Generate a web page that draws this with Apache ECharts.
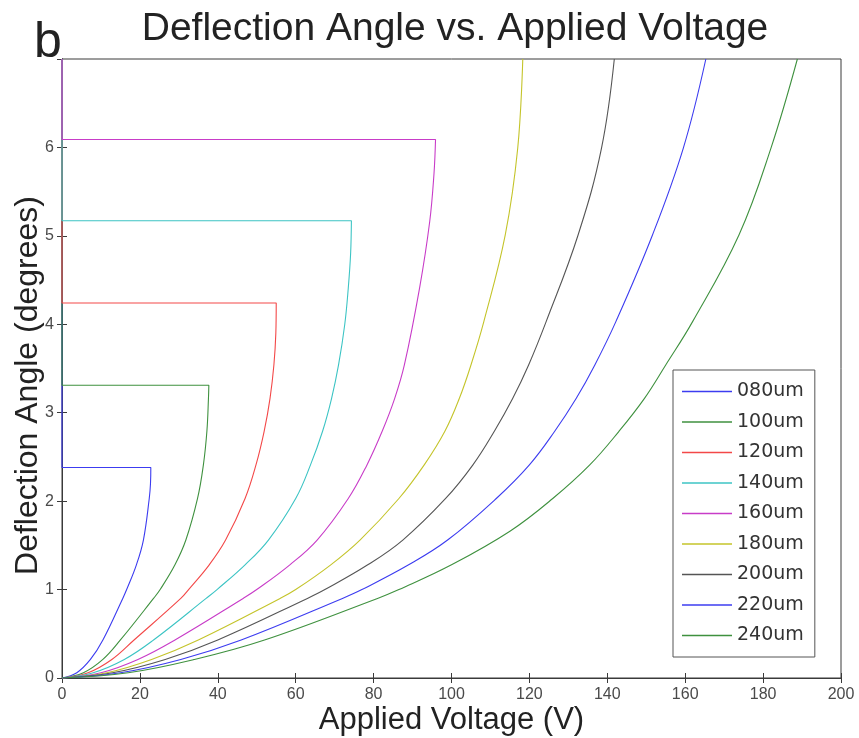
<!DOCTYPE html>
<html style="height: 100%">
   <head>
       <meta charset="utf-8">
       <title>Deflection Angle vs. Applied Voltage</title>
   </head>
   <body style="height: 100%; margin: 0; background: #fff">
       <div id="container" style="width: 859px; height: 738px"></div>
       <script type="text/javascript" src="https://cdn.jsdelivr.net/npm/echarts@6/dist/echarts.min.js"></script>
       <script type="text/javascript">
           // mirror sizes (legend names)
           var sizes = ['080um', '100um', '120um', '140um', '160um', '180um', '200um', '220um', '240um'];
           var colors = ['#3c3cf0', '#3f913f', '#f34848', '#3cc4c4', '#c83cc8', '#c4c42a', '#555555', '#3c3cf0', '#3f913f'];

           // [voltage (V), angle (deg)]
           var c080 = [[0, 0], [3.8, 0.06], [7.3, 0.21], [10.5, 0.43], [15.6, 0.9], [16.6, 1.0], [19.1, 1.28], [20.9, 1.56], [22.4, 2.03], [22.72, 2.2], [22.8, 2.38], [0, 2.38], [0, 7]];
           var c100 = [[0, 0], [5.5, 0.06], [10.5, 0.21], [15, 0.43], [23.5, 0.9], [25.2, 1.0], [29, 1.28], [31.8, 1.56], [34.8, 2.03], [36.3, 2.41], [37.2, 2.79], [37.6, 3.16], [37.7, 3.31], [0, 3.31], [0, 7]];
           var c120 = [[0, 0], [6.7, 0.06], [12.8, 0.21], [18.5, 0.43], [30.5, 0.9], [32.5, 1.0], [37.8, 1.28], [42, 1.56], [47, 2.03], [49.8, 2.41], [51.9, 2.79], [53.4, 3.16], [54.4, 3.54], [54.9, 3.9], [55, 4.24], [0, 4.24], [0, 7]];
           var c140 = [[0, 0], [8, 0.06], [16, 0.21], [23.5, 0.43], [37, 0.9], [39.8, 1.0], [47, 1.28], [53, 1.56], [60, 2.03], [63.8, 2.41], [66.9, 2.79], [69.2, 3.16], [71, 3.54], [72.6, 4.0], [73.5, 4.41], [74.1, 4.8], [74.3, 5.17], [0, 5.17], [0, 7]];
           var c160 = [[0, 0], [10, 0.06], [19.5, 0.21], [29, 0.43], [46.5, 0.9], [50, 1.0], [58.5, 1.28], [65.5, 1.56], [73.5, 2.03], [78.3, 2.41], [82.2, 2.79], [85.4, 3.16], [87.9, 3.54], [91.8, 4.41], [94.4, 5.16], [95.5, 5.7], [95.9, 6.09], [0, 6.09], [0, 7]];
           var c180 = [[0, 0], [11.5, 0.06], [23, 0.21], [35, 0.43], [56, 0.9], [60, 1.0], [69, 1.28], [76.5, 1.56], [86.5, 2.03], [93, 2.41], [98.3, 2.79], [102, 3.16], [105, 3.54], [108.3, 4.03], [113.8, 5.01], [117, 5.99], [118.3, 7.0]];
           var c200 = [[0, 0], [13, 0.06], [26.5, 0.21], [40, 0.43], [63, 0.9], [67.5, 1.0], [78.5, 1.28], [87.5, 1.56], [98.5, 2.03], [105.5, 2.41], [111, 2.79], [115.7, 3.16], [119.8, 3.54], [124.3, 4.03], [132.5, 5.01], [138.5, 5.99], [141.8, 7.0]];
           var c220 = [[0, 0], [15, 0.06], [30.5, 0.21], [46, 0.43], [72, 0.9], [77, 1.0], [89, 1.28], [99, 1.56], [111.5, 2.03], [120, 2.41], [126.5, 2.79], [132, 3.16], [136.8, 3.54], [142.2, 4.03], [151.6, 5.01], [159.5, 5.99], [165.3, 7.0]];
           var c240 = [[0, 0], [17, 0.06], [34, 0.21], [52, 0.43], [81, 0.9], [86.5, 1.0], [100, 1.28], [115, 1.66], [126, 2.03], [135.5, 2.41], [143, 2.79], [149.5, 3.16], [155, 3.54], [161.9, 4.03], [173.8, 5.01], [182, 5.99], [188.8, 7.0]];
           var curves = [c080, c100, c120, c140, c160, c180, c200, c220, c240];

           var xTicks = { min: 0, max: 200, interval: 20 };
           var yTicks = { min: 0, max: 7, interval: 1 };

           var dom = document.getElementById("container");
           var myChart = echarts.init(dom, null, { renderer: 'canvas' });

           var axisLine = { show: true, lineStyle: { color: '#3a3a3a', width: 1 } };
           var tick = { show: true, inside: true, length: 5, lineStyle: { color: '#3a3a3a' } };
           var tickFont = { color: '#4a4a4a', fontSize: 16, fontFamily: 'Liberation Sans' };

           var series = curves.map(function (c, i) {
               return {
                   name: sizes[i],
                   type: 'line',
                   data: c,
                   symbol: 'none',
                   smooth: 0.4,
                   lineStyle: { color: colors[i], width: 1.1 },
                   itemStyle: { color: colors[i] },
                   animation: false
               };
           });

           var option = {
               backgroundColor: '#fff',
               animation: false,
               title: {
                   text: 'Deflection Angle vs. Applied Voltage',
                   left: 450, textAlign: 'center', top: 5,
                   textStyle: { fontSize: 39, fontWeight: 'normal', color: '#222', fontFamily: 'Liberation Sans' }
               },
               graphic: [{
                   type: 'text', left: 34, top: 18,
                   style: { text: 'b', fontSize: 50, fill: '#222', fontFamily: 'Liberation Sans' }
               }],
               grid: { left: 62, top: 59, width: 779, height: 619, outerBoundsMode: 'none', show: true, borderColor: '#3a3a3a', borderWidth: 1, backgroundColor: '#fff' },
               legend: {
                   orient: 'vertical',
                   left: 673, top: 370,
                   data: sizes,
                   icon: 'rect',
                   itemWidth: 50, itemHeight: 1.3, itemGap: 11.5,
                   padding: [12, 11, 12, 9],
                   borderColor: '#555', borderWidth: 1, backgroundColor: '#fff',
                   textStyle: { fontSize: 19, color: '#333', fontFamily: 'DejaVu Sans', lineHeight: 19 }
               },
               xAxis: [{
                   type: 'value', min: xTicks.min, max: xTicks.max, interval: xTicks.interval,
                   name: 'Applied Voltage (V)', nameLocation: 'middle', nameGap: 27, nameMoveOverlap: false,
                   nameTextStyle: { fontSize: 31, color: '#222', fontFamily: 'Liberation Sans' },
                   axisLine: axisLine, axisTick: tick, splitLine: { show: false },
                   axisLabel: Object.assign({ margin: 9 }, tickFont)
               }, {
                   type: 'value', position: 'top', min: xTicks.min, max: xTicks.max, interval: xTicks.interval,
                   axisLine: axisLine, axisTick: tick, splitLine: { show: false }, axisLabel: { show: false }
               }],
               yAxis: [{
                   type: 'value', min: yTicks.min, max: yTicks.max, interval: yTicks.interval,
                   name: 'Deflection Angle (degrees)', nameLocation: 'middle', nameGap: 18, nameMoveOverlap: false,
                   nameTextStyle: { fontSize: 32, color: '#222', fontFamily: 'Liberation Sans', padding: [0, 34, 0, 0] },
                   axisLine: axisLine, axisTick: tick, splitLine: { show: false },
                   axisLabel: Object.assign({ margin: 8, showMaxLabel: false }, tickFont)
               }, {
                   type: 'value', position: 'right', min: yTicks.min, max: yTicks.max, interval: yTicks.interval,
                   axisLine: axisLine, axisTick: tick, splitLine: { show: false }, axisLabel: { show: false }
               }],
               series: series
           };

           myChart.setOption(option);
       </script>
   </body>
</html>
